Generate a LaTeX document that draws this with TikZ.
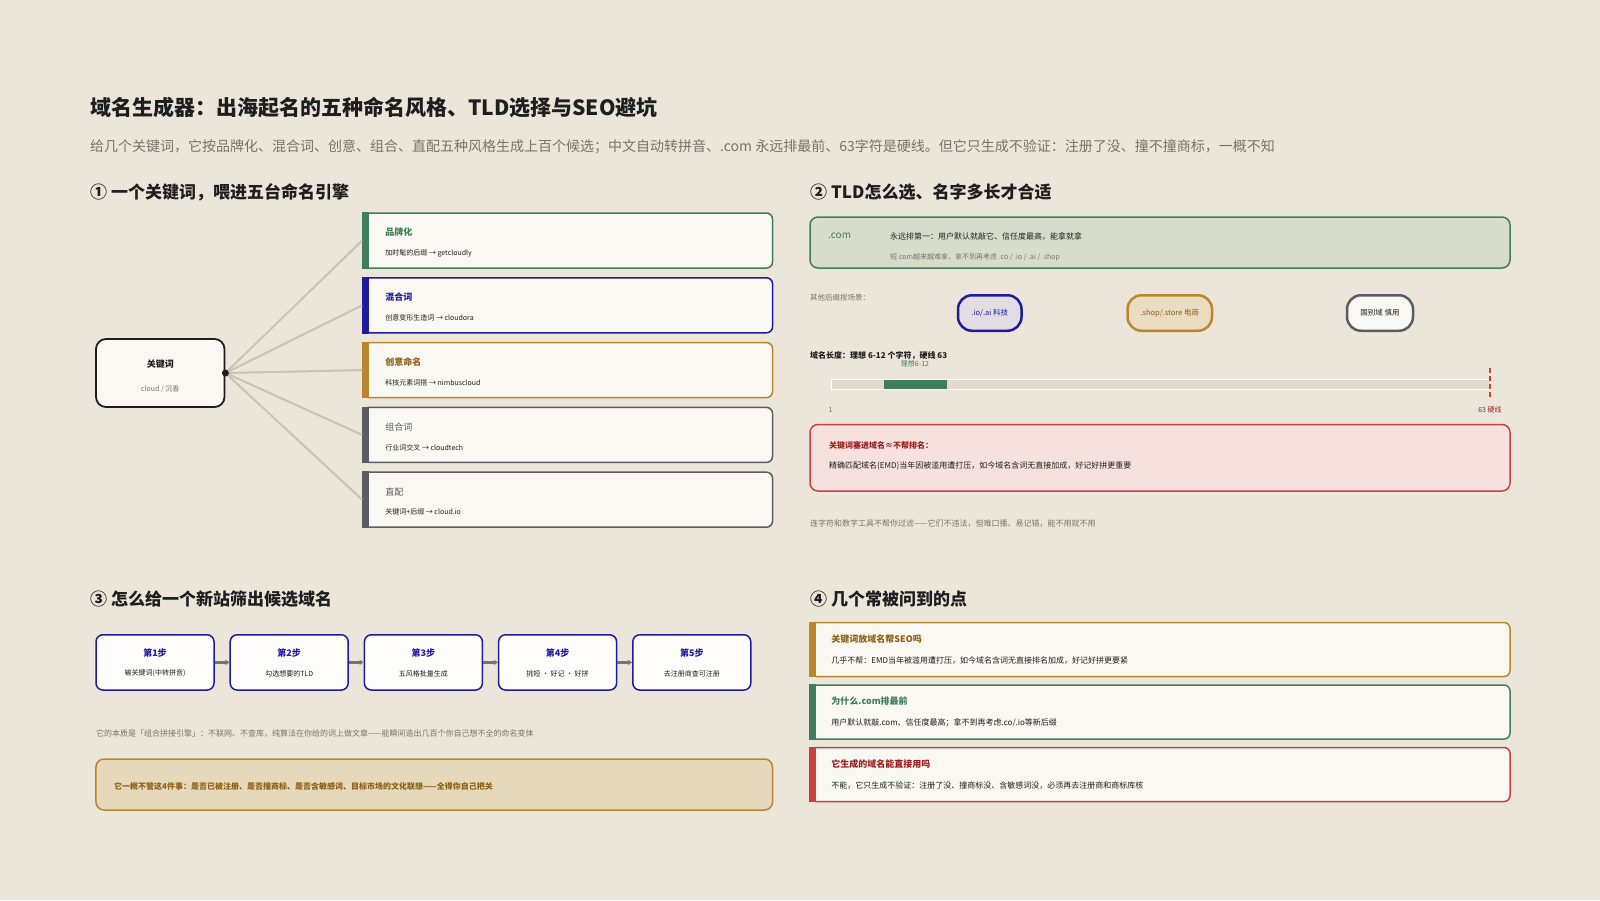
\documentclass[tikz,border=0pt]{standalone}
\usepackage{fontspec}
\setmainfont{Noto Sans CJK SC}
\usepackage{xcolor}
\usetikzlibrary{arrows.meta, positioning}
\definecolor{paperBg}{HTML}{EBE6D9}
\definecolor{inkDark}{HTML}{1E1E1E}
\definecolor{inkGray}{HTML}{77736A}
\definecolor{brandGreen}{HTML}{3F7D5C}
\definecolor{blendBlue}{HTML}{1F1B9E}
\definecolor{amberGold}{HTML}{B8862B}
\definecolor{amberText}{HTML}{8E5F14}
\definecolor{slateGray}{HTML}{5C5C64}
\definecolor{alertRed}{HTML}{C8413F}
\definecolor{alertText}{HTML}{9A1E1E}
\definecolor{cardFill}{HTML}{FAF8F3}
\definecolor{comFill}{HTML}{D8DCCB}
\definecolor{alertFill}{HTML}{F7E1DE}
\definecolor{noteFill}{HTML}{E6D8BA}
\definecolor{pillBlue}{HTML}{E2DDE2}
\definecolor{pillAmber}{HTML}{EADCC0}
\definecolor{linkGray}{HTML}{C8C3B5}
\definecolor{barFill}{HTML}{E0DBCC}
\definecolor{flowGray}{HTML}{76746E}
\newcommand{\pxfont}[1]{\fontsize{#1bp}{#1bp}\selectfont}

\begin{document}
\begin{tikzpicture}[
    x=1bp, y=-1bp,
    txt/.style={anchor=west, inner sep=0pt},
    head/.style={txt, font=\pxfont{17}\bfseries, text=inkDark},
    card/.style={rectangle, rounded corners=6bp, fill=cardFill, line width=1.5bp,
                 minimum width=409.5bp, minimum height=55bp, inner sep=0pt},
    faq/.style={card, minimum width=700bp, minimum height=54bp},
    cardtitle/.style={txt, font=\pxfont{9}\bfseries},
    cardtext/.style={txt, font=\pxfont{7}, text=inkDark},
    faqtext/.style={txt, font=\pxfont{8}, text=inkDark},
    panel/.style={rectangle, rounded corners=8bp, line width=1.5bp, minimum width=700bp, inner sep=0pt},
    pill/.style={rectangle, rounded corners=14bp, line width=2.5bp, minimum height=35.5bp,
                 inner sep=0pt, font=\pxfont{7.5}},
    stepbox/.style={rectangle, rounded corners=7bp, fill=white!70!cardFill, draw=blendBlue, line width=1.5bp,
                    minimum width=118bp, minimum height=55.3bp, inner sep=0pt},
    steptitle/.style={inner sep=0pt, font=\pxfont{9}\bfseries, text=blendBlue},
    steptext/.style={inner sep=0pt, font=\pxfont{7}, text=inkDark},
    link/.style={linkGray, line width=2bp},
    flow/.style={-{Triangle[length=4bp,width=5bp]}, line width=2.5bp, color=flowGray}
]
\fill[paperBg] (0,0) rectangle (1600,900);
\useasboundingbox (0,0) rectangle (1600,900);

% Title
\node[txt, font=\pxfont{21}\bfseries, text=inkDark] (title) at (90,107) {域名生成器：出海起名的五种命名风格、TLD选择与SEO避坑};
\node[txt, font=\pxfont{14}, text=inkGray] (subtitle) at (90,147) {给几个关键词，它按品牌化、混合词、创意、组合、直配五种风格生成上百个候选；中文自动转拼音、.com 永远排最前、63字符是硬线。但它只生成不验证：注册了没、撞不撞商标，一概不知};

% Section 1: keyword and engines
\node[head] (sec1) at (90,192) {① 一个关键词，喂进五台命名引擎};
\node[rectangle, rounded corners=10bp, fill=cardFill, draw=inkDark, line width=1.8bp,
      minimum width=128.5bp, minimum height=68bp] (kw) at (160.25,373) {};
\node[inner sep=0pt, font=\pxfont{9}\bfseries, text=inkDark] (kwtitle) at (160.25,364) {关键词};
\node[inner sep=0pt, font=\pxfont{7}, text=inkGray] (kwsub) at (160.25,389) {cloud / 沉香};

\node[card, draw=brandGreen] (brand) at (567.75,240.5) {};
\node[card, draw=blendBlue, below=8.3bp of brand] (blend) {};
\node[card, draw=amberGold, below=8.3bp of blend] (creative) {};
\node[card, draw=slateGray, below=8.3bp of creative] (combo) {};
\node[card, draw=slateGray, below=8.3bp of combo] (direct) {};
\fill[brandGreen] (brand.north west) rectangle ([xshift=7bp]brand.south west);
\fill[blendBlue] (blend.north west) rectangle ([xshift=7bp]blend.south west);
\fill[amberGold] (creative.north west) rectangle ([xshift=7bp]creative.south west);
\fill[slateGray] (combo.north west) rectangle ([xshift=7bp]combo.south west);
\fill[slateGray] (direct.north west) rectangle ([xshift=7bp]direct.south west);

\node[cardtitle, text=brandGreen] (brandT) at ([shift={(23bp,8bp)}]brand.west) {品牌化};
\node[cardtext] (brandS) at ([shift={(23bp,-12.5bp)}]brand.west) {加时髦的后缀 → getcloudly};
\node[cardtitle, text=blendBlue] (blendT) at ([shift={(23bp,8bp)}]blend.west) {混合词};
\node[cardtext] (blendS) at ([shift={(23bp,-12.5bp)}]blend.west) {创意变形生造词 → cloudora};
\node[cardtitle, text=amberText] (creativeT) at ([shift={(23bp,8bp)}]creative.west) {创意命名};
\node[cardtext] (creativeS) at ([shift={(23bp,-12.5bp)}]creative.west) {科技元素词搭 → nimbuscloud};
\node[cardtitle, font=\pxfont{9}, text=slateGray] (comboT) at ([shift={(23bp,8bp)}]combo.west) {组合词};
\node[cardtext] (comboS) at ([shift={(23bp,-12.5bp)}]combo.west) {行业词交叉 → cloudtech};
\node[cardtitle, font=\pxfont{9}, text=slateGray] (directT) at ([shift={(23bp,8bp)}]direct.west) {直配};
\node[cardtext] (directS) at ([shift={(23bp,-12.5bp)}]direct.west) {关键词+后缀 → cloud.io};

% Links
\draw[link] (kw.east) -- (brand.west);
\draw[link] (kw.east) -- (blend.west);
\draw[link] (kw.east) -- (creative.west);
\draw[link] (kw.east) -- (combo.west);
\draw[link] (kw.east) -- (direct.west);
\fill[inkDark] (kw.east) circle (3.5bp);

% Section 2: TLD and length
\node[head] (sec2) at (810,192) {② TLD怎么选、名字多长才合适};
\node[panel, fill=comFill, draw=brandGreen, minimum height=51bp] (com) at (1160,242.5) {};
\node[txt, font=\pxfont{10}, text=brandGreen] (comT) at (828,236) {.com};
\node[txt, font=\pxfont{8}, text=inkDark] (comA) at (890,236) {永远排第一：用户默认就敲它、信任度最高，能拿就拿};
\node[txt, font=\pxfont{7}, text=inkGray] (comB) at (890,257) {短.com越来越难拿，拿不到再考虑 .co / .io / .ai / .shop};

\node[txt, font=\pxfont{7.5}, text=inkGray] (other) at (810,298) {其他后缀按场景：};
\node[pill, fill=pillBlue, draw=blendBlue, text=blendBlue, minimum width=63.5bp] (pillTech) at (989.75,313) {.io/.ai 科技};
\node[pill, fill=pillAmber, draw=amberGold, text=amberText, minimum width=84.5bp] (pillShop) at (1169.75,313) {.shop/.store 电商};
\node[pill, fill=cardFill, draw=slateGray, text=inkDark, minimum width=66bp] (pillCountry) at (1380,313) {国别域 慎用};

\node[txt, font=\pxfont{8}\bfseries, text=inkDark] (lenT) at (810,356) {域名长度：理想 6-12 个字符，硬线 63};
\node[inner sep=0pt, font=\pxfont{7}, text=brandGreen] (idealT) at (915,364) {理想6-12};
\node[rectangle, fill=barFill, draw=white, line width=1bp, minimum width=659.4bp, minimum height=10bp,
      inner sep=0pt, anchor=west] (bar) at (830.6,384.7) {};
\node[rectangle, fill=brandGreen, minimum width=63.3bp, minimum height=9.5bp, inner sep=0pt] (ideal) at (915.35,384.7) {};
\coordinate (hardTop) at (1490,368);
\coordinate (hardBot) at (1490,400);
\draw[alertRed, line width=2.5bp, dash pattern=on 5bp off 3bp] (hardTop) -- (hardBot);
\node[inner sep=0pt, font=\pxfont{7}, text=inkGray] (minT) at (830.6,410) {1};
\node[inner sep=0pt, font=\pxfont{7}, text=alertText] (maxT) at (1490,410) {63 硬线};

\node[panel, fill=alertFill, draw=alertRed, minimum height=66.5bp] (seo) at (1160,457.75) {};
\node[txt, font=\pxfont{8}\bfseries, text=alertText] (seoT) at (829,445) {关键词塞进域名≈不帮排名：};
\node[txt, font=\pxfont{8}, text=inkDark] (seoS) at (829,466) {精确匹配域名(EMD)当年因被滥用遭打压，如今域名含词无直接加成，好记好拼更重要};
\node[txt, font=\pxfont{8}, text=inkGray] (hyphen) at (810,523.5) {连字符和数字工具不帮你过滤——它们不违法，但难口播、易记错，能不用就不用};

% Section 3: steps
\node[head] (sec3) at (90,599) {③ 怎么给一个新站筛出候选域名};
\node[stepbox] (s1) at (155,662.4) {};
\node[stepbox, right=14.7bp of s1] (s2) {};
\node[stepbox, right=14.7bp of s2] (s3) {};
\node[stepbox, right=14.7bp of s3] (s4) {};
\node[stepbox, right=14.7bp of s4] (s5) {};
\node[steptitle] (s1t) at ([yshift=9.4bp]s1.center) {第1步};
\node[steptext] (s1b) at ([yshift=-11bp]s1.center) {输关键词(中转拼音)};
\node[steptitle] (s2t) at ([yshift=9.4bp]s2.center) {第2步};
\node[steptext] (s2b) at ([yshift=-11bp]s2.center) {勾选想要的TLD};
\node[steptitle] (s3t) at ([yshift=9.4bp]s3.center) {第3步};
\node[steptext] (s3b) at ([yshift=-11bp]s3.center) {五风格批量生成};
\node[steptitle] (s4t) at ([yshift=9.4bp]s4.center) {第4步};
\node[steptext] (s4b) at ([yshift=-11bp]s4.center) {挑短 · 好记 · 好拼};
\node[steptitle] (s5t) at ([yshift=9.4bp]s5.center) {第5步};
\node[steptext] (s5b) at ([yshift=-11bp]s5.center) {去注册商查可注册};
\draw[flow] (s1) -- (s2);
\draw[flow] (s2) -- (s3);
\draw[flow] (s3) -- (s4);
\draw[flow] (s4) -- (s5);

\node[txt, font=\pxfont{8}, text=inkGray] (essence) at (96,733.7) {它的本质是「组合拼接引擎」：不联网、不查库，纯算法在你给的词上做文章——能瞬间造出几百个你自己想不全的命名变体};
\node[panel, fill=noteFill, draw=amberGold, minimum width=676.5bp, minimum height=51bp] (gap) at (434.25,784.5) {};
\node[txt, font=\pxfont{8}\bfseries, text=amberText] (gapT) at (114,786) {它一概不管这4件事：是否已被注册、是否撞商标、是否含敏感词、目标市场的文化联想——全得你自己把关};

% Section 4: FAQ
\node[head] (sec4) at (810,599) {④ 几个常被问到的点};
\node[faq, draw=amberGold] (faq1) at (1160,649.5) {};
\node[faq, draw=brandGreen, below=7bp of faq1] (faq2) {};
\node[faq, draw=alertRed, below=7bp of faq2] (faq3) {};
\fill[amberGold] (faq1.north west) rectangle ([xshift=7bp]faq1.south west);
\fill[brandGreen] (faq2.north west) rectangle ([xshift=7bp]faq2.south west);
\fill[alertRed] (faq3.north west) rectangle ([xshift=7bp]faq3.south west);
\node[cardtitle, text=amberText] (faq1t) at ([shift={(22bp,10.5bp)}]faq1.west) {关键词放域名帮SEO吗};
\node[faqtext] (faq1b) at ([shift={(22bp,-11bp)}]faq1.west) {几乎不帮：EMD当年被滥用遭打压，如今域名含词无直接排名加成，好记好拼更要紧};
\node[cardtitle, text=brandGreen] (faq2t) at ([shift={(22bp,10.5bp)}]faq2.west) {为什么.com排最前};
\node[faqtext] (faq2b) at ([shift={(22bp,-11bp)}]faq2.west) {用户默认就敲.com、信任度最高；拿不到再考虑.co/.io等新后缀};
\node[cardtitle, text=alertText] (faq3t) at ([shift={(22bp,10.5bp)}]faq3.west) {它生成的域名能直接用吗};
\node[faqtext] (faq3b) at ([shift={(22bp,-11bp)}]faq3.west) {不能，它只生成不验证：注册了没、撞商标没、含敏感词没，必须再去注册商和商标库核};

\end{tikzpicture}
\end{document}
